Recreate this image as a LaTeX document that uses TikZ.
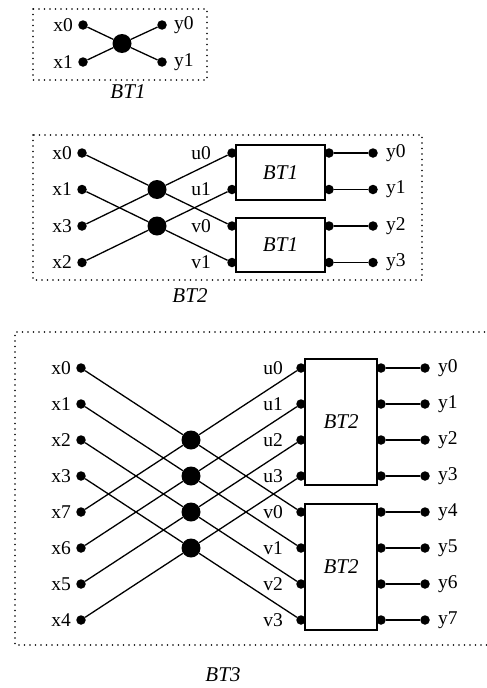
\documentclass[tikz,border=0pt]{standalone}
\usepackage{fontspec}
\setmainfont{Liberation Serif}
\begin{document}
\begin{tikzpicture}[x=1pt,y=-1pt,
  sdot/.style={circle,fill,inner sep=0pt,minimum size=9.5pt},
  bdot/.style={circle,fill,inner sep=0pt,minimum size=19pt},
  wire/.style={line width=1.3pt},
  frame/.style={line width=1.7pt,dash pattern=on 0pt off 5.5pt,line cap=round},
  blk/.style={draw,line width=1.3pt,inner sep=0pt,font=\fontsize{21}{24}\selectfont\itshape},
  lab/.style={inner sep=0pt,font=\fontsize{19.5}{22}\selectfont},
  ttl/.style={inner sep=0pt,font=\fontsize{21}{24}\selectfont\itshape}]
\useasboundingbox (0,0) rectangle (487,688);

% ---------------- BT1 ----------------
\draw[frame] (33,9) rectangle (207,80);
\node[sdot,label={[lab,label distance=5pt]left:x0}] (a-x0) at (83,25) {};
\node[sdot,label={[lab,label distance=5pt]left:x1}] (a-x1) at (83,62) {};
\node[bdot] (a-c) at (122,43.5) {};
\node[sdot,label={[lab,label distance=7pt]right:y0}] (a-y0) at (162,25) {};
\node[sdot,label={[lab,label distance=7pt]right:y1}] (a-y1) at (162,62) {};
\draw[wire] (a-x0) -- (a-c) -- (a-y1);
\draw[wire] (a-x1) -- (a-c) -- (a-y0);
\node[ttl] (a-t) at (128,92) {BT1};

% ---------------- BT2 ----------------
\draw[frame] (33,135) rectangle (422,280);
\foreach \i/\t in {0/x0,1/x1,2/x3,3/x2}
  \node[sdot,label={[lab,label distance=5pt]left:\t}] (b-l\i) at (82,153+36.5*\i) {};
\foreach \i/\t in {0/u0,1/u1,2/v0,3/v1}
  \node[sdot,label={[lab,label distance=16pt]left:\t}] (b-m\i) at (232,153+36.5*\i) {};
\foreach \i in {0,...,3}{
  \node[sdot] (b-r\i) at (329,153+36.5*\i) {};
  \node[sdot,label={[lab,label distance=8pt]right:y\i}] (b-y\i) at (373,153+36.5*\i) {};
  \draw[wire] (b-r\i) -- (b-y\i);
}
\node[bdot] (b-c0) at (157,189.5) {};
\node[bdot] (b-c1) at (157,226) {};
\draw[wire] (b-l0) -- (b-c0) -- (b-m2);
\draw[wire] (b-l2) -- (b-c0) -- (b-m0);
\draw[wire] (b-l1) -- (b-c1) -- (b-m3);
\draw[wire] (b-l3) -- (b-c1) -- (b-m1);
\node[blk,minimum width=89pt,minimum height=55pt] (b-b0) at (280.5,172.5) {BT1};
\node[blk,minimum width=89pt,minimum height=54pt] (b-b1) at (280.5,245) {BT1};
\node[ttl] (b-t) at (190,296) {BT2};

% ---------------- BT3 ----------------
\draw[frame] (490,332) -- (15,332) -- (15,645) -- (490,645);
\foreach \i/\t in {0/x0,1/x1,2/x2,3/x3,4/x7,5/x6,6/x5,7/x4}
  \node[sdot,label={[lab,label distance=5pt]left:\t}] (c-l\i) at (81,368+36*\i) {};
\foreach \i/\t in {0/u0,1/u1,2/u2,3/u3,4/v0,5/v1,6/v2,7/v3}
  \node[sdot,label={[lab,label distance=13pt]left:\t}] (c-m\i) at (301,368+36*\i) {};
\foreach \i in {0,...,7}{
  \node[sdot] (c-r\i) at (381,368+36*\i) {};
  \node[sdot,label={[lab,label distance=8pt]right:y\i}] (c-y\i) at (425,368+36*\i) {};
  \draw[wire] (c-r\i) -- (c-y\i);
}
\foreach \j in {0,...,3}
  \node[bdot] (c-c\j) at (191,440+36*\j) {};
\foreach \j [evaluate=\j as \k using int(\j+4)] in {0,...,3}{
  \draw[wire] (c-l\j) -- (c-c\j) -- (c-m\k);
  \draw[wire] (c-l\k) -- (c-c\j) -- (c-m\j);
}
\node[blk,minimum width=72pt,minimum height=126pt] (c-b0) at (341,422) {BT2};
\node[blk,minimum width=72pt,minimum height=126pt] (c-b1) at (341,567) {BT2};
\node[ttl] (c-t) at (223,675) {BT3};
\end{tikzpicture}
\end{document}
